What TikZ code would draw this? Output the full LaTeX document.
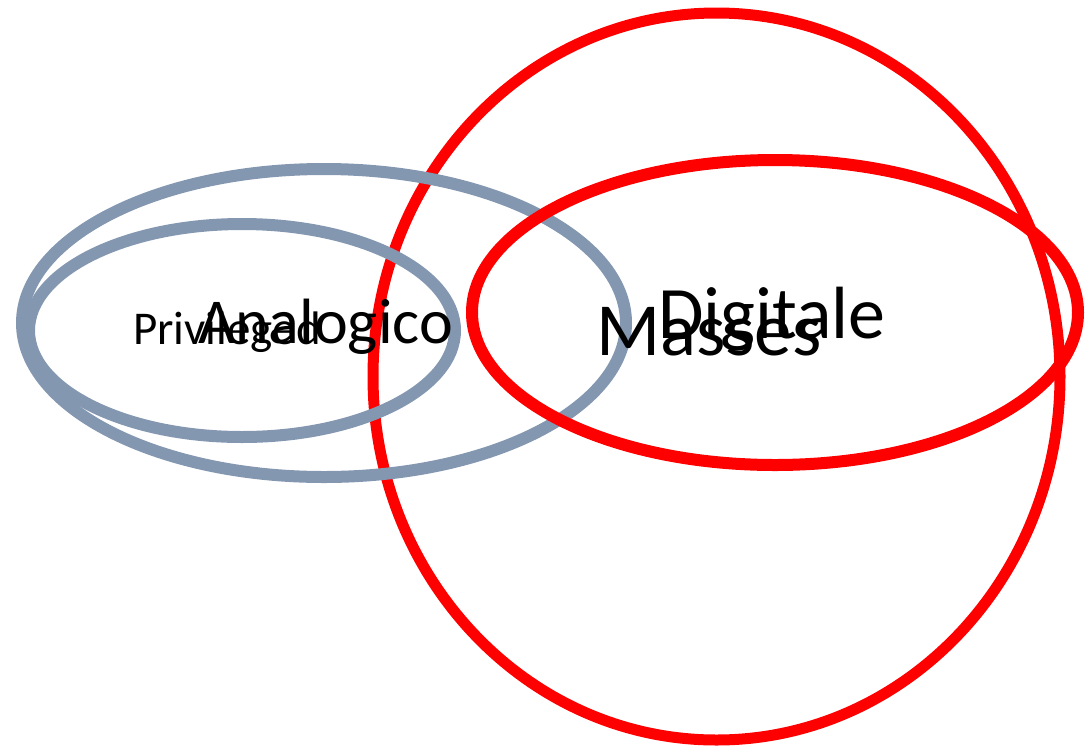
\documentclass[tikz,border=0pt]{standalone}
\usepackage{fontspec}
\setmainfont{Carlito}
\usetikzlibrary{shapes.geometric}
\definecolor{ringgray}{HTML}{8497B0}
\tikzset{
    grayring/.style={ellipse, draw=ringgray, line width=12pt, inner sep=0pt},
    redring/.style={ellipse, draw=red, line width=11pt, inner sep=0pt},
    word/.style={anchor=base west, inner sep=0pt, text=black}
}

\begin{document}
\begin{tikzpicture}[x=1pt, y=-1pt]

    \useasboundingbox (0,0) rectangle (1088,748);

    % Masses circle
    \node (masses) [redring, minimum width=687pt, minimum height=727pt] at (716.5,376.5) {};

    % Analogico ellipse
    \node (analogico) [grayring, minimum width=604pt, minimum height=308pt] at (324,323) {};

    % Privileged ellipse
    \node (privileged) [grayring, minimum width=426pt, minimum height=213pt] at (242,330.5) {};

    % Digitale ellipse
    \node (digitale) [redring, line width=12pt, minimum width=606pt, minimum height=305pt] at (775,312.5) {};

    % Texts
    \node (privileged text) [word] at (133,344) {\fontsize{47}{54}\selectfont Privileged};
    \node (analogico text) [word] at (198,343) {\fontsize{64}{72}\selectfont Analogico};
    \node (masses text) [word] at (596,355) {\fontsize{75}{84}\selectfont Masses};
    \node (digitale text) [word] at (658,338) {\fontsize{74}{82}\selectfont Digitale};

\end{tikzpicture}
\end{document}
